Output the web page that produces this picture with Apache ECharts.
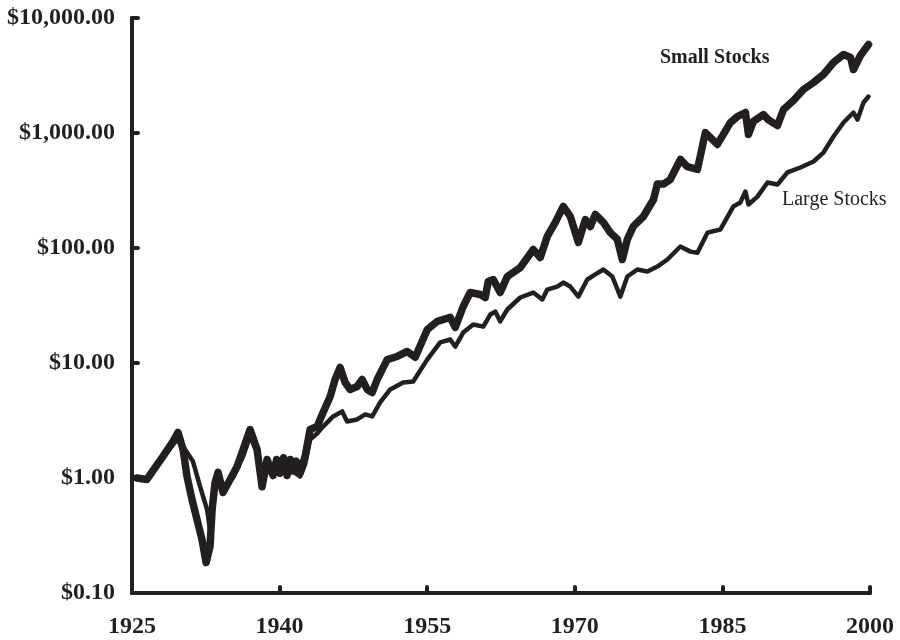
<!DOCTYPE html>
<html>
<head>
    <meta charset="utf-8" />
    <title>Small vs Large Stocks</title>
    <script src="https://cdn.jsdelivr.net/npm/echarts@6/dist/echarts.min.js"></script>
    <style>
        html, body { margin: 0; padding: 0; background: #fff; }
        #main { width: 900px; height: 640px; }
    </style>
</head>
<body>
    <div id="main"></div>
    <script type="text/javascript">
        // values (growth of $1, log scale)
        const smallYears = [1925.5, 1926.5, 1928.15, 1929.17, 1929.68, 1930.19, 1930.59, 1931.1, 1931.61, 1932.12,
            1932.53, 1932.93, 1933.14, 1933.44, 1933.75, 1934.25, 1934.97, 1935.68, 1936.29, 1937.0,
            1937.71, 1938.22, 1938.73, 1939.34, 1939.7, 1940.05, 1940.4, 1940.76, 1941.1, 1941.37,
            1941.7, 1942.08, 1942.59, 1943.1, 1943.81, 1944.42, 1945.14, 1945.64, 1946.15, 1946.66,
            1947.17, 1947.88, 1948.39, 1948.9, 1949.41, 1949.92, 1950.93, 1951.95, 1952.97, 1953.78,
            1955.0, 1956.02, 1957.34, 1957.85, 1958.66, 1959.37, 1960.39, 1960.9, 1961.2, 1961.71,
            1962.42, 1963.14, 1964.46, 1965.78, 1966.49, 1967.2, 1968.02, 1968.83, 1969.54, 1970.36,
            1971.07, 1971.58, 1972.09, 1972.9, 1973.61, 1974.32, 1974.83, 1975.34, 1975.95, 1976.97,
            1978.0, 1978.39, 1979.0, 1979.7, 1980.73, 1981.44, 1982.46, 1983.27, 1984.49, 1985.81,
            1986.52, 1987.34, 1987.65, 1988.15, 1989.17, 1989.68, 1990.6, 1991.21, 1992.22, 1993.24,
            1994.26, 1995.27, 1996.29, 1997.31, 1998.02, 1998.32, 1999.03, 1999.85];
        const smallValues = [1.00, 0.97, 1.54, 2.08, 2.49, 1.77, 1.03, 0.65, 0.435, 0.29,
            0.184, 0.254, 0.53, 0.91, 1.12, 0.75, 0.97, 1.26, 1.77, 2.64,
            1.77, 0.84, 1.45, 1.05, 1.45, 1.10, 1.50, 1.05, 1.45, 1.15,
            1.40, 1.10, 1.54, 2.64, 2.80, 3.71, 5.11, 7.19, 9.14, 6.76,
            5.89, 6.25, 7.19, 5.89, 5.54, 7.19, 10.7, 11.4, 12.6, 11.2,
            19.5, 23.0, 24.9, 20.4, 31.0, 41.0, 39.4, 37.1, 51.1, 53.2,
            41.0, 56.5, 67.6, 97.0, 82.7, 126, 167, 230, 188, 112,
            177, 154, 196, 167, 136, 119, 79.4, 119, 154, 188,
            264, 360, 360, 394, 589, 509, 482, 1009, 795, 1231,
            1390, 1507, 970, 1260, 1445, 1300, 1161, 1600, 1919, 2390,
            2748, 3228, 4103, 4820, 4540, 3565, 4720, 5890];

        const largeYears = [1925.5, 1926.5, 1928.15, 1929.58, 1930.39, 1931.2, 1931.92, 1932.63, 1932.93, 1933.34,
            1933.75, 1934.46, 1935.27, 1936.29, 1937.0, 1937.81, 1938.32, 1939.03, 1940.05, 1941.07,
            1942.08, 1942.59, 1943.1, 1943.81, 1944.42, 1945.44, 1946.36, 1946.86, 1947.88, 1948.7,
            1949.41, 1950.22, 1951.24, 1952.56, 1953.58, 1955.0, 1956.32, 1957.34, 1957.85, 1958.66,
            1959.68, 1960.7, 1961.41, 1961.92, 1962.42, 1963.14, 1964.46, 1965.78, 1966.7, 1967.2,
            1968.22, 1968.83, 1969.54, 1970.36, 1971.27, 1972.09, 1972.9, 1973.81, 1974.63, 1975.34,
            1976.36, 1977.37, 1978.39, 1979.41, 1980.73, 1981.75, 1982.46, 1983.48, 1984.8, 1986.12,
            1986.83, 1987.34, 1987.65, 1988.56, 1989.58, 1990.6, 1991.61, 1992.93, 1994.26, 1995.27,
            1996.29, 1997.31, 1998.32, 1998.73, 1999.34, 1999.85];
        const largeValues = [1.00, 0.97, 1.51, 2.16, 1.77, 1.39, 0.84, 0.53, 0.356, 0.72,
            0.97, 0.84, 1.01, 1.54, 2.30, 1.60, 0.93, 1.31, 1.36, 1.19,
            1.03, 1.31, 2.16, 2.44, 2.80, 3.43, 3.79, 3.10, 3.23, 3.57,
            3.43, 4.54, 5.89, 6.76, 6.90, 10.7, 15.1, 16.0, 13.9, 18.4,
            21.6, 20.7, 26.4, 28.0, 23.0, 29.2, 37.1, 41.0, 35.7, 43.5,
            46.2, 50.1, 46.2, 37.8, 53.2, 58.9, 65.0, 56.5, 37.8, 56.5,
            65.0, 62.5, 69.0, 79.4, 103, 93, 91, 136, 145, 230,
            249, 310, 239, 280, 371, 357, 454, 501, 565, 676,
            933, 1233, 1507, 1309, 1841, 2075];

        const yearTicks = [1925, 1940, 1955, 1970, 1985, 2000];

        const ink = '#231f20';
        const serif = '"Liberation Serif", "DejaVu Serif", serif';

        const zip = (xs, ys) => xs.map((x, i) => [x, ys[i]]);

        const money = (v) => {
            const r = Math.round(v * 100) / 100;
            return '$' + r.toLocaleString('en-US', { minimumFractionDigits: 2, maximumFractionDigits: 2 });
        };

        var chart = echarts.init(document.getElementById('main'));

        var option = {
            animation: false,
            backgroundColor: '#fff',
            grid: { left: 132, right: 30, top: 18, bottom: 47 },
            xAxis: {
                type: 'value',
                min: 1925,
                max: 2000,
                interval: 15,
                splitLine: { show: false },
                axisLine: { lineStyle: { color: ink, width: 4, cap: 'round' } },
                axisTick: { inside: true, length: 6, lineStyle: { color: ink, width: 4, cap: 'round' } },
                axisLabel: {
                    margin: 22,
                    color: ink,
                    fontFamily: serif,
                    fontWeight: 'bold',
                    fontSize: 24,
                    showMinLabel: true,
                    showMaxLabel: true,
                    formatter: (v) => (yearTicks.indexOf(v) >= 0 ? String(v) : '')
                }
            },
            yAxis: {
                type: 'log',
                logBase: 10,
                min: 0.1,
                max: 10000,
                splitLine: { show: false },
                axisLine: { lineStyle: { color: ink, width: 4, cap: 'round' } },
                axisTick: { inside: true, length: 6, lineStyle: { color: ink, width: 4, cap: 'round' } },
                axisLabel: {
                    margin: 17,
                    color: ink,
                    fontFamily: serif,
                    fontWeight: 'bold',
                    fontSize: 24,
                    formatter: money
                }
            },
            graphic: [{
                type: 'text',
                left: 660,
                top: 48,
                style: { text: 'Small Stocks', fill: ink, font: 'bold 20px ' + serif }
            }, {
                type: 'text',
                left: 782,
                top: 190,
                style: { text: 'Large Stocks', fill: ink, font: '20px ' + serif }
            }],
            series: [{
                name: 'Small Stocks',
                type: 'line',
                showSymbol: false,
                data: zip(smallYears, smallValues),
                lineStyle: { color: ink, width: 7.5, cap: 'round', join: 'round' },
                z: 3
            }, {
                name: 'Large Stocks',
                type: 'line',
                showSymbol: false,
                data: zip(largeYears, largeValues),
                lineStyle: { color: ink, width: 4.5, cap: 'round', join: 'round' },
                z: 2
            }]
        };

        chart.setOption(option);
    </script>
</body>
</html>
